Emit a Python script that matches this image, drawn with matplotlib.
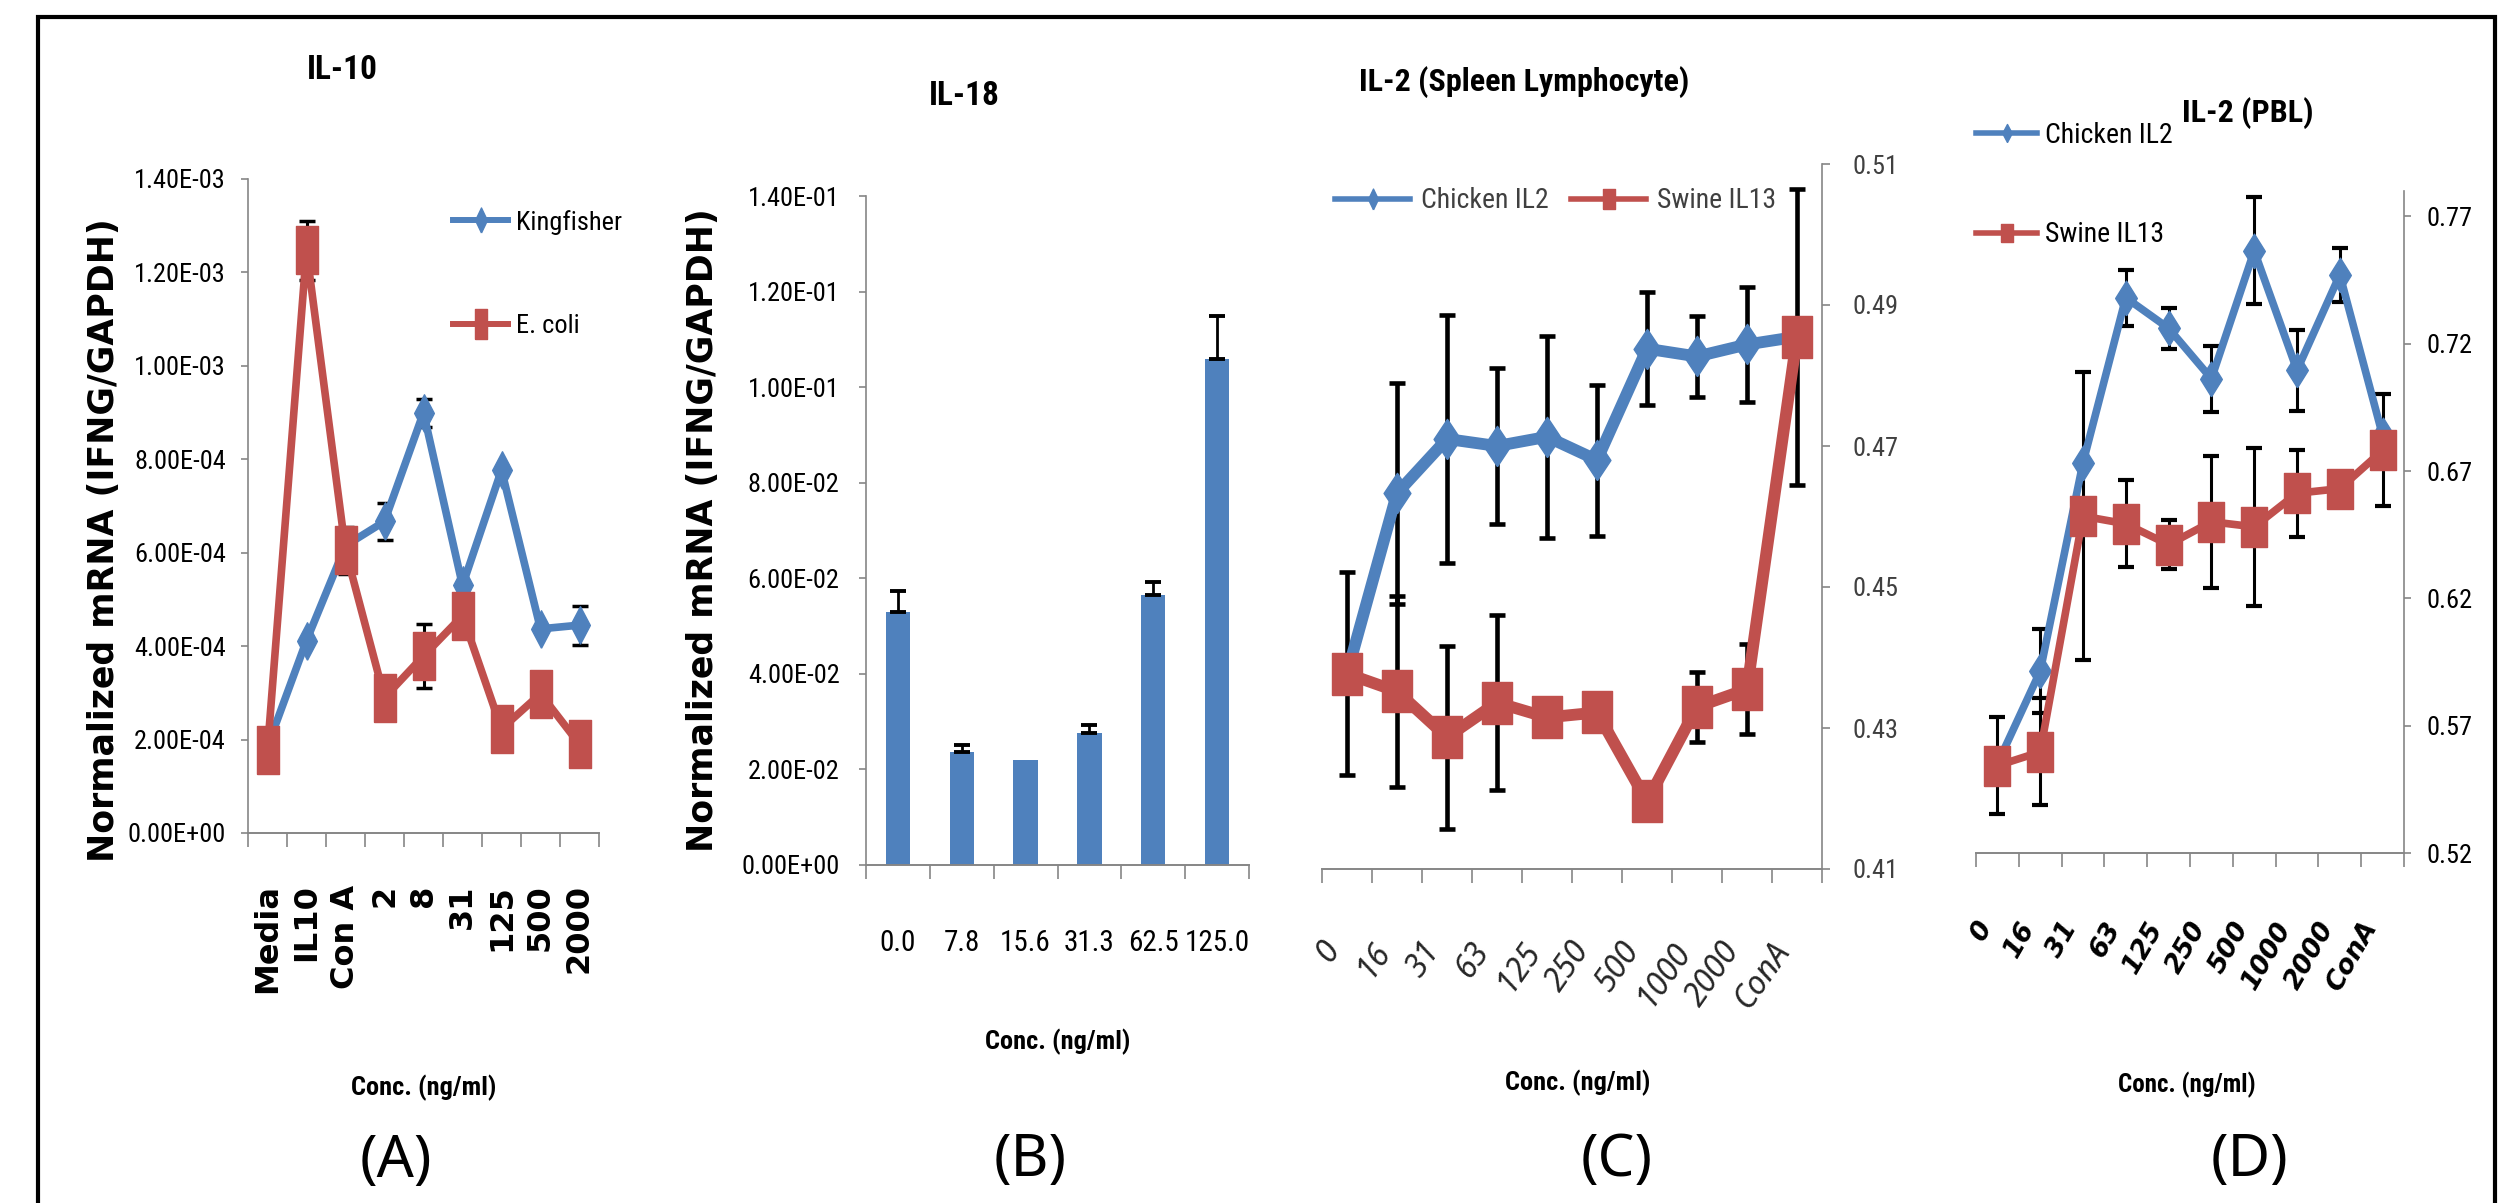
import numpy as np
import matplotlib
matplotlib.use('Agg')
import matplotlib.pyplot as plt
from matplotlib import font_manager
from matplotlib.lines import Line2D
from matplotlib.patches import Rectangle
from matplotlib.ticker import FuncFormatter

# ---------------- data ----------------
il10_cats = ['Media', 'IL10', 'Con A', '2', '8', '31', '125', '500', '2000']
il10_kingfisher = [1.85e-4, 4.12e-4, 6.15e-4, 6.67e-4, 9.00e-4, 5.30e-4, 7.77e-4, 4.37e-4, 4.45e-4]
il10_kingfisher_err = [0, 0, 0, 4.0e-5, 3.0e-5, 0, 0, 0, 4.2e-5]
il10_ecoli = [1.78e-4, 1.247e-3, 6.05e-4, 2.90e-4, 3.79e-4, 4.65e-4, 2.23e-4, 2.98e-4, 1.90e-4]
il10_ecoli_err = [0, 6.3e-5, 5.0e-5, 0, 6.9e-5, 0, 0, 0, 0]

il18_cats = ['0.0', '7.8', '15.6', '31.3', '62.5', '125.0']
il18_vals = [0.0529, 0.0236, 0.0219, 0.0277, 0.0566, 0.1058]
il18_err = [0.0045, 0.0015, 0, 0.0015, 0.0027, 0.009]

conc_cats = ['0', '16', '31', '63', '125', '250', '500', '1000', '2000', 'ConA']
spleen_chicken = [0.4377, 0.4633, 0.4710, 0.4700, 0.4713, 0.4680, 0.4838, 0.4827, 0.4844, 0.4855]
spleen_chicken_err = [0.0144, 0.0157, 0.0176, 0.0110, 0.0143, 0.0107, 0.0080, 0.0057, 0.0081, 0]
spleen_swine = [0.4377, 0.4352, 0.4287, 0.4336, 0.4315, 0.4322, 0.4196, 0.4330, 0.4355, 0.4855]
spleen_swine_err = [0, 0.0135, 0.0130, 0.0124, 0, 0, 0, 0.0050, 0.0064, 0.0210]

pbl_chicken = [0.5550, 0.5914, 0.6733, 0.7381, 0.7261, 0.7063, 0.7565, 0.7096, 0.7471, 0.6840]
pbl_chicken_err = [0, 0.0165, 0, 0.0110, 0.0080, 0.0130, 0.0210, 0.0160, 0.0105, 0]
pbl_swine = [0.5543, 0.5597, 0.6523, 0.6493, 0.6411, 0.6501, 0.6481, 0.6613, 0.6631, 0.6781]
pbl_swine_err = [0.0190, 0.0210, 0.0565, 0.0170, 0.0095, 0.0260, 0.0310, 0.0170, 0, 0.0220]

# ---------------- style ----------------
BLUE = '#4F81BD'
RED = '#C0504D'
GRAY = '#868686'

fonts = font_manager.fontManager.ttflist
available = {f.name for f in fonts}
NARROW = next((n for n in ['Liberation Sans Narrow', 'Roboto Condensed', 'DejaVu Sans Condensed',
                           'Liberation Sans'] if n in available), 'DejaVu Sans')
LABEL_FONT = 'Noto Sans' if 'Noto Sans' in available else 'DejaVu Sans'
ITALIC = next((n for n in ['Noto Sans', 'Open Sans', 'Lato']
               if any(f.name == n and f.style == 'italic' for f in fonts)), 'DejaVu Sans')
plt.rcParams['font.family'] = ['DejaVu Sans']


# tall markers (the original figure is stretched vertically)
def tall_square(aspect):
    return [(-1, -aspect), (1, -aspect), (1, aspect), (-1, aspect), (-1, -aspect)]


def tall_diamond(aspect):
    return [(0, -aspect), (1, 0), (0, aspect), (-1, 0), (0, -aspect)]


W, H = 2499, 1203
fig = plt.figure(figsize=(W / 100, H / 100), dpi=100)


def box(x0, y0, x1, y1):
    return [x0 / W, 1 - y1 / H, (x1 - x0) / W, (y1 - y0) / H]


def category_axis(ax, labels, pad, **kw):
    n = len(labels)
    ax.set_xlim(-0.5, n - 0.5)
    ax.set_xticks(range(n))
    ax.set_xticklabels(labels, **kw)
    ax.set_xticks(np.arange(-0.5, n), minor=True)
    ax.tick_params(axis='x', which='major', length=0, pad=pad)
    ax.tick_params(axis='x', which='minor', length=10, width=1.2, color=GRAY, direction='out')


def style_spines(ax, side):
    for s in ['top', 'left', 'right']:
        ax.spines[s].set_visible(s == side)
    ax.spines['bottom'].set_color(GRAY)
    ax.spines['bottom'].set_linewidth(1.4)
    ax.spines[side].set_color(GRAY)
    ax.spines[side].set_linewidth(1.2)
    if side == 'right':
        ax.yaxis.tick_right()


def err_bars(ax, y, err, lw, cap, capthick):
    x = np.arange(len(y))
    y = np.asarray(y)
    err = np.asarray(err)
    m = err > 0
    ax.errorbar(x[m], y[m], yerr=err[m], fmt='none', ecolor='black',
                elinewidth=lw, capsize=cap, capthick=capthick, zorder=2)


# ---------------- (A) IL-10 ----------------
axA = fig.add_axes(box(248, 179, 599, 833))
style_spines(axA, 'left')
xA = np.arange(len(il10_cats))
err_bars(axA, il10_kingfisher, il10_kingfisher_err, 2.2, 5.5, 2.5)
err_bars(axA, il10_ecoli, il10_ecoli_err, 2.2, 5.5, 2.5)
axA.plot(xA, il10_kingfisher, color=BLUE, lw=5.5, marker=tall_diamond(1.9), markersize=27, zorder=3)
axA.plot(xA, il10_ecoli, color=RED, lw=5.5, marker=tall_square(2.14), markersize=34, zorder=4)
axA.set_ylim(0, 1.4e-3)
axA.set_yticks(np.linspace(0, 1.4e-3, 8))
axA.yaxis.set_major_formatter(FuncFormatter(lambda v, p: f'{v:.2E}'))
axA.tick_params(axis='y', length=5, width=1.2, color=GRAY, pad=11)
for t in axA.get_yticklabels():
    t.set_fontfamily(NARROW)
    t.set_fontsize(19)
category_axis(axA, il10_cats, pad=37, rotation=90, fontsize=23, fontweight='bold')
axA.set_title('IL-10', x=0.268, y=1.167, va='center', pad=0, fontfamily=NARROW,
              fontsize=24, fontweight='bold')
axA.set_ylabel('Normalized mRNA (IFNG/GAPDH)', fontsize=25, fontweight='bold', va='center')
axA.yaxis.set_label_coords(-0.41, 0.448)
axA.set_xlabel('Conc. (ng/ml)', fontfamily=NARROW, fontsize=19, fontweight='bold', va='center')
axA.xaxis.set_label_coords(0.5, -0.39)
axA.text(0.42, -0.503, '(A)', transform=axA.transAxes, ha='center', va='center',
         fontfamily=LABEL_FONT, fontsize=42)
hA = [Line2D([], [], color=BLUE, lw=4.3, marker=tall_diamond(2.1), markersize=18),
      Line2D([], [], color=RED, lw=4.3, marker=tall_square(2.4), markersize=21)]
axA.legend(hA, ['Kingfisher', 'E. coli'], loc='upper left', bbox_to_anchor=(0.584, 0.953),
           frameon=False, borderpad=0, borderaxespad=0, handlelength=2.1, handletextpad=0.3,
           labelspacing=3.0, prop={'family': NARROW, 'size': 19})

# ---------------- (B) IL-18 ----------------
axB = fig.add_axes(box(866, 196, 1249, 865))
style_spines(axB, 'left')
xB = np.arange(len(il18_cats))
axB.bar(xB, il18_vals, width=0.38, color=BLUE, zorder=2)
errB = np.asarray(il18_err)
mB = errB > 0
axB.errorbar(xB[mB], np.asarray(il18_vals)[mB], yerr=[np.zeros(mB.sum()), errB[mB]], fmt='none',
             ecolor='black', elinewidth=2.0, capsize=5.8, capthick=2.8, zorder=3)
axB.set_ylim(0, 0.14)
axB.set_yticks(np.linspace(0, 0.14, 8))
axB.yaxis.set_major_formatter(FuncFormatter(lambda v, p: f'{v:.2E}'))
axB.tick_params(axis='y', length=5, width=1.2, color=GRAY, pad=14)
for t in axB.get_yticklabels():
    t.set_fontfamily(NARROW)
    t.set_fontsize(19)
category_axis(axB, il18_cats, pad=46, fontfamily=NARROW, fontsize=21)
axB.set_title('IL-18', x=0.256, y=1.149, va='center', pad=0, fontfamily=NARROW,
              fontsize=24, fontweight='bold')
axB.set_ylabel('Normalized mRNA (IFNG/GAPDH)', fontsize=25, fontweight='bold', va='center')
axB.yaxis.set_label_coords(-0.426, 0.50)
axB.set_xlabel('Conc. (ng/ml)', fontfamily=NARROW, fontsize=19, fontweight='bold', va='center')
axB.xaxis.set_label_coords(0.501, -0.265)
axB.text(0.428, -0.442, '(B)', transform=axB.transAxes, ha='center', va='center',
         fontfamily=LABEL_FONT, fontsize=42)

# ---------------- (C) IL-2 spleen ----------------
axC = fig.add_axes(box(1322, 164, 1822, 869))
style_spines(axC, 'right')
xC = np.arange(len(conc_cats))
err_bars(axC, spleen_chicken, spleen_chicken_err, 3.3, 5.8, 3.3)
err_bars(axC, spleen_swine, spleen_swine_err, 3.3, 5.8, 3.3)
axC.plot(xC, spleen_chicken, color=BLUE, lw=8.5, marker=tall_diamond(1.5), markersize=29, zorder=3)
axC.plot(xC, spleen_swine, color=RED, lw=8.5, marker=tall_square(1.35), markersize=30, zorder=4)
axC.set_ylim(0.41, 0.51)
axC.set_yticks(np.linspace(0.41, 0.51, 6))
axC.yaxis.set_major_formatter(FuncFormatter(lambda v, p: f'{v:.2f}'))
axC.tick_params(axis='y', length=6, width=1.2, color=GRAY, pad=16, labelcolor='#404040')
for t in axC.get_yticklabels():
    t.set_fontfamily(NARROW)
    t.set_fontsize(19)
category_axis(axC, conc_cats, pad=48, rotation=55, ha='right', fontfamily=ITALIC,
              fontstyle='italic', fontsize=23, color='#262626')
axC.set_title('IL-2 (Spleen Lymphocyte)', x=0.404, y=1.116, va='center', pad=0,
              fontfamily=NARROW, fontsize=23, fontweight='bold')
axC.set_xlabel('Conc. (ng/ml)', fontfamily=NARROW, fontsize=19, fontweight='bold', va='center')
axC.xaxis.set_label_coords(0.512, -0.304)
axC.text(0.59, -0.414, '(C)', transform=axC.transAxes, ha='center', va='center',
         fontfamily=LABEL_FONT, fontsize=42)
hC = [Line2D([], [], color=BLUE, lw=4, marker=tall_diamond(2.1), markersize=15),
      Line2D([], [], color=RED, lw=4, marker=tall_square(1.75), markersize=15)]
axC.legend(hC, ['Chicken IL2', 'Swine IL13'], loc='upper left', bbox_to_anchor=(0.026, 0.967),
           ncol=2, frameon=False, borderpad=0, borderaxespad=0, handlelength=2.7,
           handletextpad=0.4, columnspacing=0.8, labelcolor='#404040',
           prop={'family': NARROW, 'size': 20})

# ---------------- (D) IL-2 PBL ----------------
axD = fig.add_axes(box(1976, 191, 2404, 853))
style_spines(axD, 'right')
xD = np.arange(len(conc_cats))
err_bars(axD, pbl_chicken, pbl_chicken_err, 2.2, 5.5, 3.0)
err_bars(axD, pbl_swine, pbl_swine_err, 2.2, 5.5, 3.0)
axD.plot(xD, pbl_chicken, color=BLUE, lw=5.5, marker=tall_diamond(1.6), markersize=25, zorder=3)
axD.plot(xD, pbl_swine, color=RED, lw=5.5, marker=tall_square(1.6), markersize=29, zorder=4)
axD.set_ylim(0.52, 0.78)
axD.set_yticks(np.linspace(0.52, 0.77, 6))
axD.yaxis.set_major_formatter(FuncFormatter(lambda v, p: f'{v:.2f}'))
axD.tick_params(axis='y', length=5, width=1.2, color=GRAY, pad=11)
for t in axD.get_yticklabels():
    t.set_fontfamily(NARROW)
    t.set_fontsize(19)
category_axis(axD, conc_cats, pad=46, rotation=60, ha='right', fontfamily='DejaVu Sans',
              fontstyle='italic', fontweight='bold', fontsize=19)
axD.set_title('IL-2 (PBL)', x=0.636, y=1.118, va='center', pad=0, fontfamily=NARROW,
              fontsize=23, fontweight='bold')
axD.set_xlabel('Conc. (ng/ml)', fontfamily=NARROW, fontsize=18, fontweight='bold', va='center')
axD.xaxis.set_label_coords(0.493, -0.350)
axD.text(0.64, -0.465, '(D)', transform=axD.transAxes, ha='center', va='center',
         fontfamily=LABEL_FONT, fontsize=42)
hD = [Line2D([], [], color=BLUE, lw=4, marker=tall_diamond(1.9), markersize=13),
      Line2D([], [], color=RED, lw=4, marker=tall_square(1.55), markersize=13)]
axD.legend(hD, ['Chicken IL2', 'Swine IL13'], loc='upper left', bbox_to_anchor=(0.0, 1.104),
           frameon=False, borderpad=0, borderaxespad=0, handlelength=2.2, handletextpad=0.3,
           labelspacing=2.6, prop={'family': NARROW, 'size': 20})

# outer frame of the figure
fig.patches.append(Rectangle((38 / W, -0.02), (2495 - 38) / W, 1.02 - 16.7 / H,
                             transform=fig.transFigure, fill=False, edgecolor='black',
                             linewidth=3, clip_on=False))

fig.savefig('out.png', dpi=100)
